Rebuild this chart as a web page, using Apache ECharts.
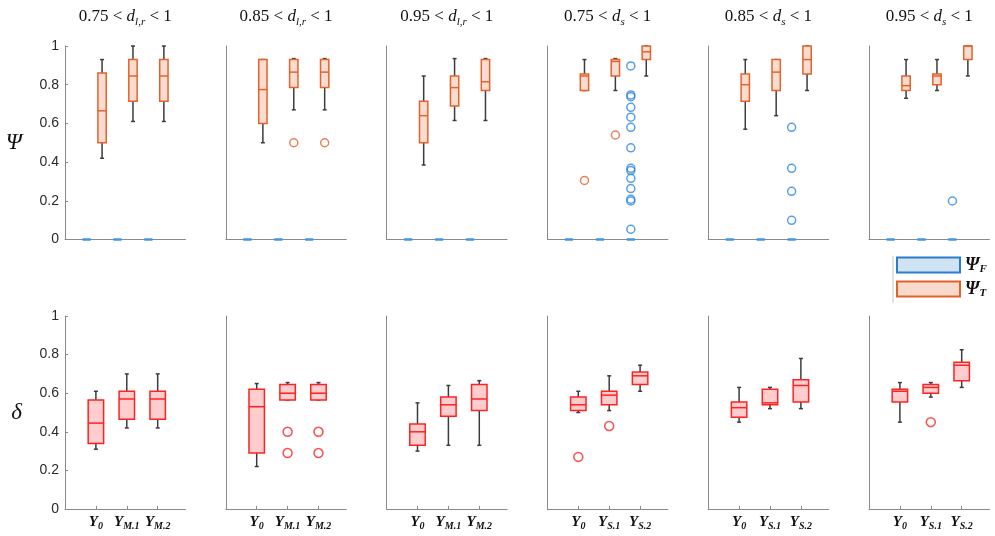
<!DOCTYPE html>
<html><head><meta charset="utf-8">
<script src="https://cdn.jsdelivr.net/npm/echarts@6/dist/echarts.min.js"></script>
<style>html,body{margin:0;padding:0;background:#fff}#c{width:995px;height:536px}</style>
</head><body><div id="c"></div>
<script>
// ---------- data ----------
const thresholds = ['0.75', '0.85', '0.95', '0.75', '0.85', '0.95'];
const dSubscripts = ['l,r', 'l,r', 'l,r', 's', 's', 's'];
const catSubsM = ['0', 'M.1', 'M.2'];
const catSubsS = ['0', 'S.1', 'S.2'];
const yTicks = [0, 0.2, 0.4, 0.6, 0.8, 1];

// Psi_F boxes (min, q1, median, q3, max) – identical in every panel
const psiFBox = [[0, 0, 0, 0, 0], [0, 0, 0, 0, 0], [0, 0, 0, 0, 0]];
// Psi_F outliers [category, value]
const psiFOut1 = [];
const psiFOut2 = [];
const psiFOut3 = [];
const psiFOut4 = [[3, 0.897], [3, 0.747], [3, 0.738], [3, 0.683], [3, 0.632], [3, 0.580], [3, 0.474],
                  [3, 0.368], [3, 0.356], [3, 0.316], [3, 0.263], [3, 0.208], [3, 0.199], [3, 0.053]];
const psiFOut5 = [[3, 0.580], [3, 0.368], [3, 0.249], [3, 0.099]];
const psiFOut6 = [[3, 0.199]];

// Psi_T boxes
const psiT1 = [[0.42, 0.50, 0.665, 0.86, 0.93], [0.61, 0.715, 0.845, 0.93, 1.0], [0.61, 0.715, 0.845, 0.93, 1.0]];
const psiT2 = [[0.50, 0.60, 0.775, 0.93, 0.93], [0.67, 0.785, 0.865, 0.93, 0.935], [0.67, 0.785, 0.865, 0.93, 0.935]];
const psiT3 = [[0.385, 0.50, 0.64, 0.715, 0.845], [0.615, 0.69, 0.785, 0.845, 0.935], [0.615, 0.77, 0.815, 0.93, 0.935]];
const psiT4 = [[0.77, 0.77, 0.845, 0.855, 0.93], [0.77, 0.845, 0.92, 0.93, 0.935], [0.845, 0.93, 0.97, 1.0, 1.0]];
const psiT5 = [[0.57, 0.715, 0.80, 0.855, 0.93], [0.64, 0.77, 0.865, 0.93, 0.93], [0.77, 0.855, 0.93, 1.0, 1.0]];
const psiT6 = [[0.73, 0.77, 0.795, 0.845, 0.93], [0.77, 0.80, 0.845, 0.855, 0.93], [0.845, 0.93, 1.0, 1.0, 1.0]];
// Psi_T outliers
const psiTOut1 = [];
const psiTOut2 = [[2, 0.50], [3, 0.50]];
const psiTOut3 = [];
const psiTOut4 = [[1, 0.305], [2, 0.54]];
const psiTOut5 = [];
const psiTOut6 = [];

// delta boxes
const delta1 = [[0.31, 0.34, 0.445, 0.565, 0.61], [0.42, 0.465, 0.57, 0.61, 0.70], [0.42, 0.465, 0.57, 0.61, 0.70]];
const delta2 = [[0.22, 0.29, 0.53, 0.62, 0.65], [0.565, 0.565, 0.60, 0.645, 0.655], [0.565, 0.565, 0.60, 0.645, 0.655]];
const delta3 = [[0.30, 0.33, 0.40, 0.44, 0.55], [0.33, 0.48, 0.54, 0.58, 0.64], [0.33, 0.51, 0.57, 0.645, 0.665]];
const delta4 = [[0.50, 0.51, 0.54, 0.58, 0.61], [0.51, 0.54, 0.59, 0.61, 0.69], [0.61, 0.645, 0.69, 0.71, 0.745]];
const delta5 = [[0.45, 0.475, 0.525, 0.555, 0.63], [0.52, 0.54, 0.55, 0.62, 0.63], [0.52, 0.555, 0.64, 0.67, 0.78]];
const delta6 = [[0.45, 0.555, 0.61, 0.62, 0.655], [0.58, 0.60, 0.63, 0.645, 0.655], [0.63, 0.665, 0.745, 0.76, 0.825]];
// delta outliers
const deltaOut1 = [];
const deltaOut2 = [[2, 0.40], [2, 0.29], [3, 0.40], [3, 0.29]];
const deltaOut3 = [];
const deltaOut4 = [[1, 0.27], [2, 0.43]];
const deltaOut5 = [];
const deltaOut6 = [[2, 0.45]];

// ---------- assembly ----------
const psiTAll = [psiT1, psiT2, psiT3, psiT4, psiT5, psiT6];
const psiTOutAll = [psiTOut1, psiTOut2, psiTOut3, psiTOut4, psiTOut5, psiTOut6];
const psiFOutAll = [psiFOut1, psiFOut2, psiFOut3, psiFOut4, psiFOut5, psiFOut6];
const deltaAll = [delta1, delta2, delta3, delta4, delta5, delta6];
const deltaOutAll = [deltaOut1, deltaOut2, deltaOut3, deltaOut4, deltaOut5, deltaOut6];

const SERIF = 'Liberation Serif';
const SANS = 'Liberation Sans';
const AXIS_GRAY = '#8a8a8a';
const WHISK = '#3c3c3c';
const BLUE = '#3d98e6', BLUE_OUT = '#2a88dc';
const ORANGE = '#e4632c', ORANGE_FILL = '#f9dcd0';
const RED = '#ff2222', RED_FILL = '#ffcdcd';

const panelLeft = [65, 225.8, 386.6, 547.4, 708.2, 869];
const panelW = 120.5;
const topRow = { top: 46, height: 193.5 };
const botRow = { top: 316, height: 193 };
const FOFF = -0.3, TOFF = 0.2;

function makeRender(st) {
  return function (params, api) {
    const x = api.value(0);
    const lo = api.coord([x, api.value(1)]);
    const q1 = api.coord([x, api.value(2)]);
    const md = api.coord([x, api.value(3)]);
    const q3 = api.coord([x, api.value(4)]);
    const hi = api.coord([x, api.value(5)]);
    const w = api.size([st.width, 0])[0];
    const cx = lo[0];
    const children = [];
    if (st.whiskers) {
      const ws = { stroke: WHISK, lineWidth: 1.5 };
      children.push({ type: 'line', shape: { x1: cx, y1: q3[1], x2: cx, y2: hi[1] }, style: ws });
      children.push({ type: 'line', shape: { x1: cx, y1: q1[1], x2: cx, y2: lo[1] }, style: ws });
      children.push({ type: 'line', shape: { x1: cx - 2, y1: hi[1], x2: cx + 2, y2: hi[1] }, style: ws });
      children.push({ type: 'line', shape: { x1: cx - 2, y1: lo[1], x2: cx + 2, y2: lo[1] }, style: ws });
    }
    children.push({ type: 'rect', shape: { x: cx - w / 2, y: q3[1], width: w, height: q1[1] - q3[1] },
      style: { fill: st.fill, stroke: st.stroke, lineWidth: st.lw } });
    children.push({ type: 'line', shape: { x1: cx - w / 2, y1: md[1], x2: cx + w / 2, y2: md[1] },
      style: { stroke: st.stroke, lineWidth: st.lw } });
    return { type: 'group', children };
  };
}

const grids = [], xAxes = [], yAxes = [], series = [], titles = [];
const labRich = {
  y: { fontFamily: SERIF, fontStyle: 'italic', fontWeight: 'bold', fontSize: 15, color: '#111', lineHeight: 18 },
  s: { fontFamily: SERIF, fontStyle: 'italic', fontWeight: 'bold', fontSize: 10, color: '#111', lineHeight: 10, verticalAlign: 'bottom' }
};

for (let row = 0; row < 2; row++) {
  for (let p = 0; p < 6; p++) {
    const g = row * 6 + p;
    const r = row === 0 ? topRow : botRow;
    grids.push({ left: panelLeft[p], top: r.top, width: panelW, height: r.height });
    const subs = p < 3 ? catSubsM : catSubsS;
    xAxes.push({
      type: 'value', gridIndex: g, min: 0, max: 3.9, interval: 1,
      axisLine: { show: true, onZero: false, lineStyle: { color: AXIS_GRAY, width: 1 } },
      axisTick: { show: row === 1, inside: true, length: 3, customValues: [1, 2, 3], lineStyle: { color: AXIS_GRAY } },
      axisLabel: {
        show: row === 1, margin: 4, customValues: [1, 2, 3],
        formatter: v => (v >= 1 && v <= 3) ? '{y|Y}{s|' + subs[Math.round(v) - 1] + '}' : '',
        rich: labRich
      },
      splitLine: { show: false }
    });
    yAxes.push({
      type: 'value', gridIndex: g, min: yTicks[0], max: yTicks[yTicks.length - 1], interval: 0.2,
      axisLine: { show: true, lineStyle: { color: AXIS_GRAY, width: 1 } },
      axisTick: { show: p === 0, inside: true, length: 3, lineStyle: { color: AXIS_GRAY } },
      axisLabel: { show: p === 0, margin: 6, fontFamily: SANS, fontSize: 14, color: '#2a2a2a' },
      splitLine: { show: false },
      name: p === 0 ? (row === 0 ? 'Ψ' : 'δ') : '',
      nameLocation: 'middle', nameRotate: 0, nameGap: 43,
      nameTextStyle: { fontFamily: SERIF, fontStyle: 'italic', fontSize: 23, color: '#111' }
    });

    if (row === 0) {
      series.push({
        type: 'custom', name: 'ΨF', xAxisIndex: g, yAxisIndex: g, silent: true,
        renderItem: makeRender({ width: 0.26, stroke: BLUE, fill: 'rgba(0,0,0,0)', lw: 2, whiskers: false }),
        encode: { x: 0, y: [1, 2, 3, 4, 5] },
        data: psiFBox.map((b, c) => [c + 1 + FOFF, ...b])
      });
      series.push({
        type: 'custom', name: 'ΨT', xAxisIndex: g, yAxisIndex: g, silent: true,
        renderItem: makeRender({ width: 0.27, stroke: ORANGE, fill: ORANGE_FILL, lw: 1.5, whiskers: true }),
        encode: { x: 0, y: [1, 2, 3, 4, 5] },
        data: psiTAll[p].map((b, c) => [c + 1 + TOFF, ...b])
      });
      series.push({
        type: 'scatter', name: 'ΨF', xAxisIndex: g, yAxisIndex: g, silent: true,
        symbol: 'circle', symbolSize: 8,
        itemStyle: { color: 'rgba(255,255,255,0)', borderColor: BLUE_OUT, borderWidth: 1.5 },
        data: psiFOutAll[p].map(o => [o[0] + FOFF, o[1]])
      });
      series.push({
        type: 'scatter', name: 'ΨT', xAxisIndex: g, yAxisIndex: g, silent: true,
        symbol: 'circle', symbolSize: 8,
        itemStyle: { color: 'rgba(255,255,255,0)', borderColor: ORANGE, borderWidth: 1.5 },
        data: psiTOutAll[p].map(o => [o[0] + TOFF, o[1]])
      });
      titles.push({
        text: '{n|' + thresholds[p] + ' < }{i|d}{s|' + dSubscripts[p] + '}{n| < 1}',
        left: panelLeft[p] + panelW / 2, top: 6, textAlign: 'center', padding: 0,
        textStyle: {
          fontWeight: 'normal',
          rich: {
            n: { fontFamily: SERIF, fontWeight: 'normal', fontSize: 17, color: '#111', lineHeight: 22 },
            i: { fontFamily: SERIF, fontWeight: 'normal', fontStyle: 'italic', fontSize: 17, color: '#111', lineHeight: 22 },
            s: { fontFamily: SERIF, fontWeight: 'normal', fontStyle: 'italic', fontSize: 11, color: '#111', lineHeight: 12, verticalAlign: 'bottom' }
          }
        }
      });
    } else {
      series.push({
        type: 'custom', name: 'delta', xAxisIndex: g, yAxisIndex: g, silent: true,
        renderItem: makeRender({ width: 0.5, stroke: RED, fill: RED_FILL, lw: 1.5, whiskers: true }),
        encode: { x: 0, y: [1, 2, 3, 4, 5] },
        data: deltaAll[p].map((b, c) => [c + 1, ...b])
      });
      series.push({
        type: 'scatter', name: 'deltaOut', xAxisIndex: g, yAxisIndex: g, silent: true,
        symbol: 'circle', symbolSize: 9,
        itemStyle: { color: 'rgba(255,255,255,0)', borderColor: RED, borderWidth: 1.5 },
        data: deltaOutAll[p].map(o => [o[0], o[1]])
      });
    }
  }
}

const legRich = {
  m: { fontFamily: SERIF, fontStyle: 'italic', fontWeight: 'bold', fontSize: 18, color: '#111', lineHeight: 20 },
  s: { fontFamily: SERIF, fontStyle: 'italic', fontWeight: 'bold', fontSize: 11, color: '#111', lineHeight: 11, verticalAlign: 'bottom' }
};

const chart = echarts.init(document.getElementById('c'), null, { renderer: 'canvas' });
chart.setOption({
  animation: false,
  backgroundColor: '#fff',
  title: titles,
  grid: grids,
  xAxis: xAxes,
  yAxis: yAxes,
  series: series,
  legend: {
    orient: 'vertical', left: 896, top: 256, padding: 0,
    itemWidth: 63, itemHeight: 15, itemGap: 5, icon: 'rect', selectedMode: false,
    data: [
      { name: 'ΨF', itemStyle: { color: '#cfe3f3', borderColor: '#2a7dc9', borderWidth: 2 } },
      { name: 'ΨT', itemStyle: { color: '#f8dacd', borderColor: '#e0622a', borderWidth: 2 } }
    ],
    formatter: n => n === 'ΨF' ? '{m|Ψ}{s|F}' : '{m|Ψ}{s|T}',
    textStyle: { rich: legRich }
  },
  graphic: [{
    type: 'line', shape: { x1: 893, y1: 256, x2: 893, y2: 303 },
    style: { stroke: '#c8c8c8', lineWidth: 1 }, silent: true
  }]
});
</script>
</body></html>
